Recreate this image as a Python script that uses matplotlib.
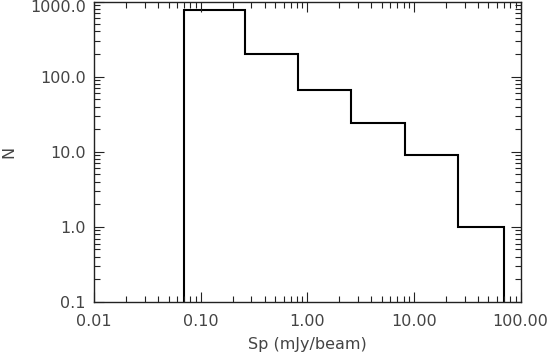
import numpy as np
import matplotlib
matplotlib.use("Agg")
import matplotlib.pyplot as plt
import matplotlib.transforms as mtransforms
from matplotlib.ticker import FixedLocator, LogLocator, NullFormatter

# Histogram of peak fluxes (log bins)
bin_edges = [0.0702, 0.260, 0.815, 2.56, 8.19, 25.7, 69.5]
counts = [780, 200, 66, 24, 9, 1]

x_ticks = [0.01, 0.1, 1.0, 10.0, 100.0]
x_ticklabels = ["0.01", "0.10", "1.00", "10.00", "100.00"]
y_ticks = [0.1, 1.0, 10.0, 100.0, 1000.0]
y_ticklabels = ["0.1", "1.0", "10.0", "100.0", "1000.0"]

text_col = "#444444"
fs = 11.5

fig = plt.figure(figsize=(5.5, 3.56), dpi=100)
ax = fig.add_axes([94 / 550, 1 - 302 / 356, (520.5 - 94) / 550, (302 - 1.5) / 356])

ax.stairs(counts, bin_edges, baseline=1e-3, color="black", linewidth=1.5)

ax.set_xscale("log")
ax.set_yscale("log")
ax.set_xlim(0.01, 100)
ax.set_ylim(0.1, 1000)

ax.xaxis.set_major_locator(FixedLocator(x_ticks))
ax.set_xticklabels(x_ticklabels)
ax.yaxis.set_major_locator(FixedLocator(y_ticks))
ax.set_yticklabels(y_ticklabels)
ax.xaxis.set_minor_locator(LogLocator(base=10, subs=np.arange(2, 10)))
ax.yaxis.set_minor_locator(LogLocator(base=10, subs=np.arange(2, 10)))
ax.xaxis.set_minor_formatter(NullFormatter())
ax.yaxis.set_minor_formatter(NullFormatter())

ax.tick_params(which="both", direction="in", top=True, right=True,
               colors="#222222", labelcolor=text_col, labelsize=fs, width=0.8)
ax.tick_params(which="major", length=7)
ax.tick_params(axis="x", which="major", pad=9)
ax.tick_params(axis="y", which="major", pad=6)
ax.tick_params(which="minor", length=4)
for s in ax.spines.values():
    s.set_linewidth(1.0)
    s.set_color("#222222")

# top y label sits a little lower, as in the original
top_lab = ax.get_yticklabels()[-1]
top_lab.set_transform(top_lab.get_transform() +
                      mtransforms.ScaledTranslation(0, -5 / 100, fig.dpi_scale_trans))

ax.set_xlabel("Sp (mJy/beam)", fontsize=fs, color=text_col)
ax.xaxis.set_label_coords(0.5, -0.118)
ax.set_ylabel("N", fontsize=fs, color=text_col)
ax.yaxis.set_label_coords(-0.182, 0.5)

fig.savefig("out.png", dpi=100)
